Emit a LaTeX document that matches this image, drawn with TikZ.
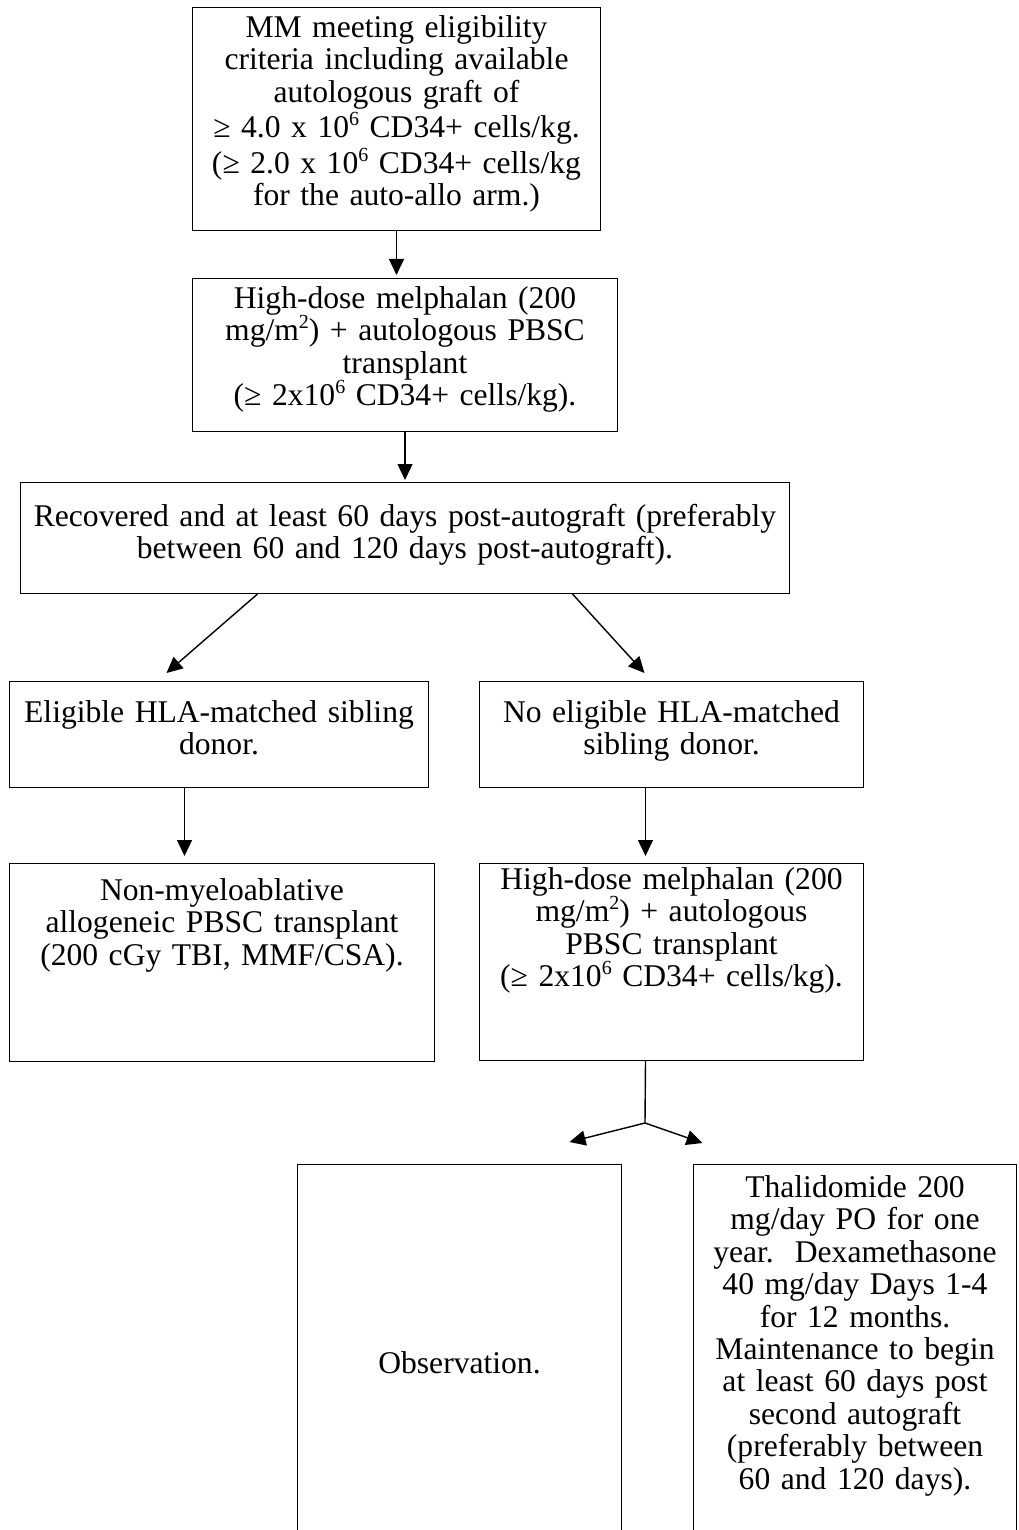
\documentclass[tikz,border=0pt]{standalone}
\usepackage{fontspec}
\setmainfont{Liberation Serif}
\usepackage{tikz}
\usetikzlibrary{arrows.meta}
\newcommand{\expo}[1]{\raisebox{.38em}{\fontsize{20}{20}\selectfont #1}}

\begin{document}
\begin{tikzpicture}[x=1pt, y=-1pt,
    box/.style={draw, line width=1pt, anchor=north west, align=center,
        inner xsep=4pt, inner ysep=5pt, font=\fontsize{31.6}{32.4}\selectfont},
    arr/.style={line width=1.4pt, -{Triangle[length=16pt, width=15pt]}}]
    \useasboundingbox (0,0) rectangle (1018,1530);

    % Tronco comun
    \node[box, text width=400pt, text height=25pt, text depth=188pt] (b1) at (192,7)
        {MM meeting eligibility\\ criteria including available\\ autologous graft of\\[3pt]
         ≥ 4.0 x 10\expo{6} CD34+ cells/kg.\\[3pt] (≥ 2.0 x 10\expo{6} CD34+ cells/kg\\
         for the auto-allo arm.)};
    \node[box, text width=417pt, text height=25pt, text depth=118pt] (b2) at (192,278)
        {High-dose melphalan (200\\ mg/m\expo{2}) + autologous PBSC\\ transplant\\
         (≥ 2x10\expo{6} CD34+ cells/kg).};
    \node[box, text width=761pt, text height=39pt, text depth=62pt] (b3) at (20,482)
        {Recovered and at least 60 days post-autograft (preferably\\
         between 60 and 120 days post-autograft).};

    % Donante o no
    \node[box, text width=411pt, text height=36pt, text depth=60pt] (b4) at (9,681)
        {Eligible HLA-matched sibling\\ donor.};
    \node[box, text width=376pt, text height=36pt, text depth=60pt] (b5) at (479,681)
        {No eligible HLA-matched\\ sibling donor.};
    \node[box, text width=417pt, text height=32pt, text depth=156pt] (b6) at (9,863)
        {Non-myeloablative\\ allogeneic PBSC transplant\\ (200 cGy TBI, MMF/CSA).};
    \node[box, text width=376pt, text height=21pt, text depth=166pt] (b7) at (479,863)
        {High-dose melphalan (200\\ mg/m\expo{2}) + autologous\\ PBSC transplant\\
         (≥ 2x10\expo{6} CD34+ cells/kg).};

    % Mantenimiento (cajas abiertas abajo)
    \node[box, text width=316pt, minimum height=396pt] (b8) at (297,1164) {Observation.};
    \node[box, text width=315pt, text height=28pt, text depth=400pt] (b9) at (693,1164)
        {Thalidomide 200\\ mg/day PO for one\\ year.\ \ Dexamethasone\\ 40 mg/day Days 1-4\\
         for 12 months.\\ Maintenance to begin\\ at least 60 days post\\ second autograft\\
         (preferably between\\ 60 and 120 days).};

    % Flechas
    \draw[arr] (b1.south) -- ([xshift=-8.5pt, yshift=3pt]b2.north);
    \draw[arr, shorten >=2pt] (b2) -- (b3);
    \draw[arr] ([xshift=-147.5pt]b3.south) -- ([xshift=-52.5pt, yshift=8pt]b4.north);
    \draw[arr] ([xshift=167.5pt]b3.south) -- ([xshift=-27pt, yshift=8pt]b5.north);
    \foreach \a/\b/\sa/\sb in {b4/b6/-34.5/-37.5, b5/b7/-26/-26}
        \draw[arr, shorten >=7pt] ([xshift=\sa pt]\a.south) -- ([xshift=\sb pt]\b.north);

    % Bifurcacion final
    \coordinate (fork) at (645,1123);
    \draw[line width=1.4pt] ([xshift=-26pt]b7.south) -- (fork);
    \draw[arr] (fork) -- ([xshift=110pt, yshift=22pt]b8.north);
    \draw[arr] (fork) -- ([xshift=-152.5pt, yshift=21pt]b9.north);
\end{tikzpicture}
\end{document}
